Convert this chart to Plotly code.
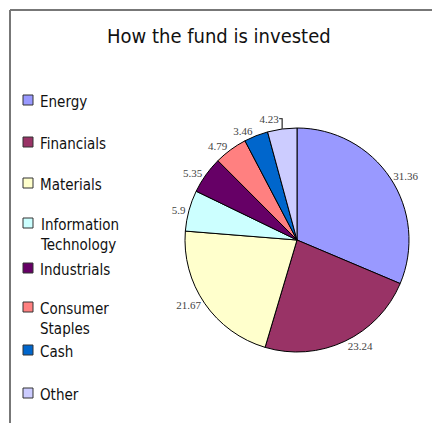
import plotly.graph_objects as go

# ---- data ----
categories = ["Energy", "Financials", "Materials", "Information Technology",
              "Industrials", "Consumer Staples", "Cash", "Other"]
legend_labels = ["Energy", "Financials", "Materials", "Information<br>Technology",
                 "Industrials", "Consumer<br>Staples", "Cash", "Other"]
values = [31.36, 23.24, 21.67, 5.9, 5.35, 4.79, 3.46, 4.23]
colors = ["#9999FF", "#993366", "#FFFFCC", "#CCFFFF",
          "#660066", "#FF8080", "#0066CC", "#CCCCFF"]
title_text = "How the fund is invested"

W, H = 432, 423
SANS = "DejaVu Sans Condensed, Liberation Sans Narrow, Arial Narrow, sans-serif"

# pie geometry in pixels
cx, cy, r = 297, 240, 112

fig = go.Figure()
fig.add_trace(go.Pie(
    labels=categories,
    values=values,
    sort=False,
    direction="clockwise",
    rotation=0,
    marker=dict(colors=colors, line=dict(color="#000000", width=1)),
    textinfo="value",
    texttemplate="%{value}",
    textposition="outside",
    textfont=dict(family="Liberation Serif, Times New Roman, serif", size=11, color="#444444"),
    domain=dict(x=[(cx - r) / W, (cx + r) / W], y=[(H - cy - r) / H, (H - cy + r) / H]),
    showlegend=False,
    automargin=False,
))

shapes = [
    dict(type="line", xref="paper", yref="paper", x0=10 / W, x1=1, y0=1 - 10 / H, y1=1 - 10 / H,
         line=dict(color="#777777", width=2)),
    dict(type="line", xref="paper", yref="paper", x0=10 / W, x1=10 / W, y0=0, y1=1 - 10 / H,
         line=dict(color="#777777", width=2)),
]
annotations = [
    dict(text=title_text, xref="paper", yref="paper", x=219 / W, y=1 - 36 / H,
         xanchor="center", yanchor="middle", showarrow=False,
         font=dict(family=SANS, size=20, color="#111111")),
]

row_y = [100, 142, 183, 223, 268, 307, 350, 393]
line_h = 19
for lab, col, yy in zip(legend_labels, colors, row_y):
    shapes.append(dict(type="rect", xref="paper", yref="paper",
                       x0=23 / W, x1=33 / W, y0=1 - (yy + 5) / H, y1=1 - (yy - 5) / H,
                       fillcolor=col, line=dict(color="#333333", width=1)))
    annotations.append(dict(text=lab, xref="paper", yref="paper",
                            x=38 / W, y=1 - (yy - line_h / 2) / H,
                            xanchor="left", yanchor="top", align="left", showarrow=False,
                            font=dict(family=SANS, size=15, color="#111111")))

fig.update_layout(
    width=W, height=H,
    margin=dict(l=0, r=0, t=0, b=0),
    paper_bgcolor="white", plot_bgcolor="white",
    shapes=shapes, annotations=annotations,
)

fig.write_html("out.html")
